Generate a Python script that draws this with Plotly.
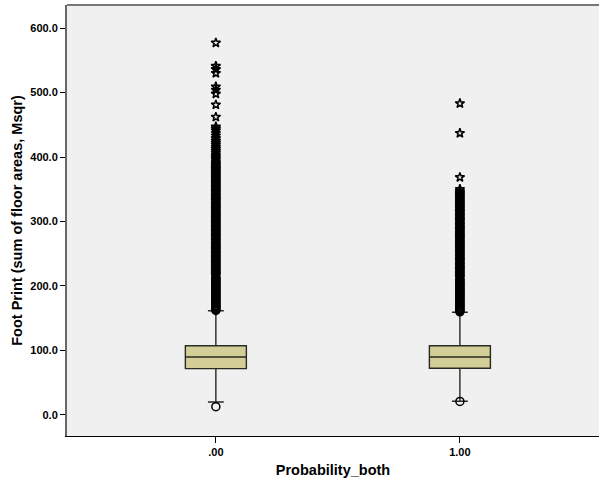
import plotly.graph_objects as go

# ---- data ----
categories = [0, 1]
category_labels = [".00", "1.00"]

q1 = [71.8, 72.4]
median = [89.9, 89.9]
q3 = [107.4, 107.4]
lower_fence = [20.2, 21.2]
upper_fence = [161.7, 159.2]

# mild outliers (circles), per group
circles_0 = [12.9, 162, 163.5, 165, 167, 168.5, 170, 172, 173.5, 175, 177, 179, 180.5,
             182, 184, 186, 187.5, 189, 191, 193, 195, 196.5, 198, 200, 202, 203.5,
             205, 207, 209, 211, 212.5, 214]
circles_1 = [21.0, 160, 161.5, 163, 165, 167, 168.5, 170, 172, 174, 175.5, 177, 179,
             181, 183, 184.5, 186, 188, 190, 192, 193.5, 195, 197, 199, 201, 202.5,
             204, 206, 208, 210, 211.5]

# extreme outliers (stars), per group
stars_0 = [216, 218, 220, 222, 224, 226, 228, 230, 232, 234, 236, 238, 240, 242, 244,
           246, 248, 250, 252, 254, 256, 258, 260, 262, 264, 266, 268, 270, 272, 274,
           276, 278, 280, 282, 284, 286, 288, 290, 292, 294, 296, 298, 300, 302, 304,
           306, 308, 310, 312, 314, 316, 318, 320, 322, 324, 326, 328, 330, 332, 334,
           336, 338, 340, 342, 344, 346, 348, 350, 352, 354, 356, 358, 360, 362, 364,
           366, 368, 370, 372, 374, 376, 378, 380, 382, 384, 386, 388, 390, 392, 395,
           398, 401, 404, 407, 410, 413, 416, 419, 422, 425, 429, 433, 437, 441, 444, 447,
           462, 481, 498, 504, 509, 530, 536, 541, 577]
stars_1 = [213, 215, 217, 219, 221, 223, 225, 227, 229, 231, 233, 235, 237, 239, 241,
           243, 245, 247, 249, 251, 253, 255, 257, 259, 261, 263, 265, 267, 269, 271,
           273, 275, 277, 279, 281, 283, 285, 287, 289, 291, 293, 295, 297, 299, 301,
           303, 305, 307, 309, 311, 313, 315, 317, 319, 321, 323, 325, 327, 329, 331,
           333, 335, 337, 339, 341, 343, 345, 347, 350,
           368.5, 437, 483]

ytick_vals = [0, 100, 200, 300, 400, 500, 600]
ytick_text = ["0.0", "100.0", "200.0", "300.0", "400.0", "500.0", "600.0"]

# ---- figure ----
fig = go.Figure()
box_fill = "#D3CE97"
for i, c in enumerate(categories):
    fig.add_trace(go.Box(
        x=[c], q1=[q1[i]], median=[median[i]], q3=[q3[i]],
        lowerfence=[lower_fence[i]], upperfence=[upper_fence[i]],
        width=0.25, whiskerwidth=0.26, boxpoints=False,
        fillcolor=box_fill, line=dict(color="#2a2a22", width=1.4),
        showlegend=False, hoverinfo="skip",
    ))

for c, vals in zip(categories, [circles_0, circles_1]):
    fig.add_trace(go.Scatter(
        x=[c] * len(vals), y=vals, mode="markers",
        marker=dict(symbol="circle-open", size=8, color="black", line=dict(width=1.5)),
        showlegend=False, hoverinfo="skip",
    ))
for c, vals in zip(categories, [stars_0, stars_1]):
    fig.add_trace(go.Scatter(
        x=[c] * len(vals), y=vals, mode="markers",
        marker=dict(symbol="star-open", size=7, color="black", line=dict(width=1.5)),
        showlegend=False, hoverinfo="skip",
    ))

font_family = "Liberation Sans, Arial, sans-serif"
fig.update_layout(
    width=599, height=487,
    margin=dict(l=67, r=0, t=5, b=51),
    paper_bgcolor="white", plot_bgcolor="#F0F0F0",
    font=dict(family=font_family, color="black"),
    xaxis=dict(
        range=[-0.61, 1.57], tickvals=categories, ticktext=category_labels,
        ticks="outside", ticklen=6, tickcolor="black", tickwidth=1,
        showgrid=False, zeroline=False,
        showline=True, linecolor="black", linewidth=1,
        tickfont=dict(size=11, weight="bold", family=font_family),
        title=dict(text="Probability_both", font=dict(size=14.5, weight="bold", family=font_family),
                   standoff=7),
    ),
    yaxis=dict(
        range=[-32.6, 635.7], tickvals=ytick_vals, ticktext=ytick_text,
        ticks="outside", ticklen=5, tickcolor="black", tickwidth=1,
        showgrid=False, zeroline=False,
        showline=True, linecolor="#666666", linewidth=2,
        tickfont=dict(size=11, weight="bold", family=font_family),
        title=dict(text="Foot Print (sum of floor areas, Msqr)",
                   font=dict(size=14.5, weight="bold", family=font_family), standoff=4),
    ),
    shapes=[dict(type="line", xref="paper", yref="paper", x0=0, x1=1, y0=1, y1=1,
                 line=dict(color="#777777", width=2))],
)

fig.write_html("out.html")
